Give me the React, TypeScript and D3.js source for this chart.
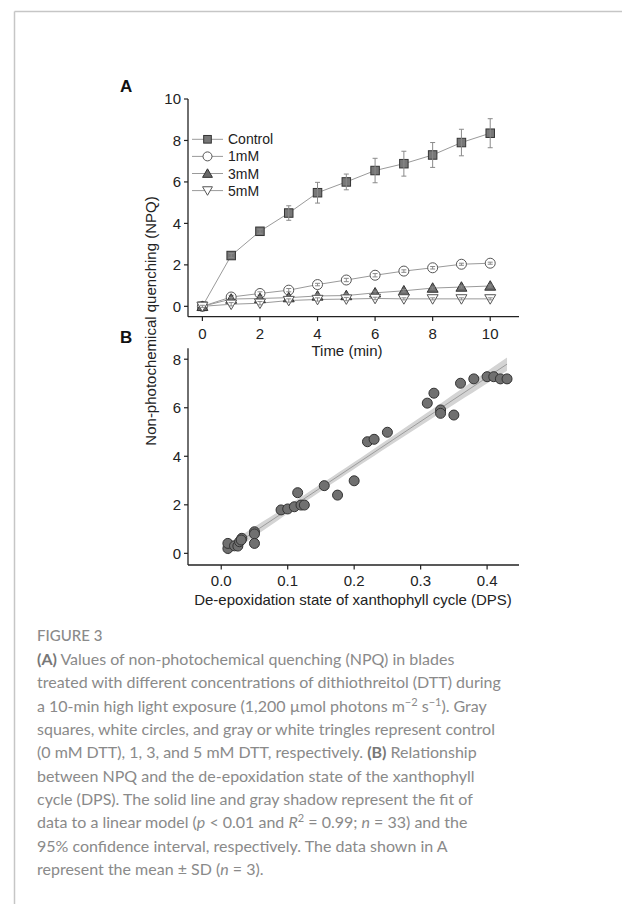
import React from "react";
import * as d3 from "d3";

// ---------- Panel A data ----------
const timeMin = [0, 1, 2, 3, 4, 5, 6, 7, 8, 9, 10];
const npqControl = [0, 2.45, 3.62, 4.5, 5.48, 6.0, 6.55, 6.88, 7.3, 7.9, 8.35];
const sdControl = [0.05, 0.1, 0.1, 0.35, 0.5, 0.38, 0.59, 0.6, 0.6, 0.64, 0.7];
const npq1mM = [0, 0.45, 0.62, 0.78, 1.05, 1.27, 1.5, 1.7, 1.86, 2.03, 2.08];
const sd1mM = [0.05, 0.08, 0.08, 0.08, 0.06, 0.08, 0.08, 0.06, 0.06, 0.05, 0.05];
const npq3mM = [0, 0.35, 0.38, 0.42, 0.5, 0.52, 0.65, 0.75, 0.88, 0.93, 0.98];
const sd3mM = [0.05, 0.08, 0.08, 0.06, 0.08, 0.08, 0.08, 0.06, 0.05, 0.05, 0.05];
const npq5mM = [0, 0.1, 0.15, 0.28, 0.33, 0.35, 0.38, 0.36, 0.36, 0.36, 0.36];
const sd5mM = [0.05, 0.08, 0.08, 0.08, 0.08, 0.08, 0.06, 0.05, 0.05, 0.05, 0.05];
const seriesNames = ["Control", "1mM", "3mM", "5mM"];
const ticksA_x = [0, 2, 4, 6, 8, 10];
const ticksA_y = [0, 2, 4, 6, 8, 10];

// ---------- Panel B data ----------
const dps = [
  0.01, 0.01, 0.02, 0.025, 0.0275, 0.031, 0.03, 0.05, 0.05, 0.05, 0.09, 0.1, 0.11,
  0.115, 0.12, 0.125, 0.155, 0.175, 0.2, 0.22, 0.23, 0.25, 0.31, 0.32, 0.33, 0.33,
  0.35, 0.36, 0.38, 0.4, 0.41, 0.42, 0.43,
];
const npqB = [
  0.2, 0.41, 0.31, 0.3, 0.48, 0.62, 0.55, 0.89, 0.8, 0.41, 1.79, 1.83, 1.92,
  2.5, 1.99, 1.99, 2.79, 2.4, 2.99, 4.6, 4.7, 4.99, 6.19, 6.6, 5.91, 5.77,
  5.7, 7.01, 7.19, 7.28, 7.28, 7.19, 7.19,
];
const ticksB_x = [0.0, 0.1, 0.2, 0.3, 0.4];
const ticksB_y = [0, 2, 4, 6, 8];

// ---------- caption ----------
type Seg = { t: string; b?: boolean; i?: boolean; sup?: boolean };
const captionLines: Seg[][] = [
  [{ t: "(A)", b: true }, { t: " Values of non-photochemical quenching (NPQ) in blades" }],
  [{ t: "treated with different concentrations of dithiothreitol (DTT) during" }],
  [
    { t: "a 10-min high light exposure (1,200 µmol photons m" },
    { t: "−2", sup: true },
    { t: " s" },
    { t: "−1", sup: true },
    { t: "). Gray" },
  ],
  [{ t: "squares, white circles, and gray or white tringles represent control" }],
  [{ t: "(0 mM DTT), 1, 3, and 5 mM DTT, respectively. " }, { t: "(B)", b: true }, { t: " Relationship" }],
  [{ t: "between NPQ and the de-epoxidation state of the xanthophyll" }],
  [{ t: "cycle (DPS). The solid line and gray shadow represent the fit of" }],
  [
    { t: "data to a linear model (" },
    { t: "p", i: true },
    { t: " < 0.01 and " },
    { t: "R", i: true },
    { t: "2", sup: true },
    { t: " = 0.99; " },
    { t: "n", i: true },
    { t: " = 33) and the" },
  ],
  [{ t: "95% confidence interval, respectively. The data shown in A" }],
  [{ t: "represent the mean ± SD (" }, { t: "n", i: true }, { t: " = 3)." }],
];

const AX = "#222";
const FONT = "'Liberation Sans', Arial, sans-serif";

function marker(kind: number, cx: number, cy: number, key: string, scale = 1) {
  if (kind === 0) {
    const s = 8.5 * scale;
    return <rect key={key} x={cx - s / 2} y={cy - s / 2} width={s} height={s} fill="#777" stroke="#333" strokeWidth={1} />;
  }
  if (kind === 1) {
    return <circle key={key} cx={cx} cy={cy} r={5 * scale} fill="#fff" stroke="#555" strokeWidth={1} />;
  }
  const tri = d3.symbol().type(d3.symbolTriangle).size(52 * scale * scale)();
  if (kind === 2) {
    return <path key={key} d={tri || ""} transform={`translate(${cx},${cy + 1})`} fill="#6a6a6a" stroke="#333" strokeWidth={1} />;
  }
  return <path key={key} d={tri || ""} transform={`translate(${cx},${cy - 1}) rotate(180)`} fill="#fff" stroke="#555" strokeWidth={1} />;
}

export default function App() {
  // Panel A scales
  const xA = d3.scaleLinear().domain([-0.5, 11]).range([188, 519]);
  const yA = d3.scaleLinear().domain([-0.5, 10]).range([316.7, 99]);
  // Panel B scales
  const xB = d3.scaleLinear().domain([-0.05, 0.448]).range([188, 519]);
  const yB = d3.scaleLinear().domain([-0.48, 8.45]).range([565, 348.3]);

  const series = [npqControl, npq1mM, npq3mM, npq5mM];
  const sds = [sdControl, sd1mM, sd3mM, sd5mM];
  const lineA = d3.line<number>().x((_, i) => xA(timeMin[i])).y((d) => yA(d));

  // regression
  const n = dps.length;
  const mx = d3.mean(dps) as number;
  const my = d3.mean(npqB) as number;
  let sxx = 0, sxy = 0;
  dps.forEach((x, i) => { sxx += (x - mx) ** 2; sxy += (x - mx) * (npqB[i] - my); });
  const slope = sxy / sxx;
  const icpt = my - slope * mx;
  let sse = 0;
  dps.forEach((x, i) => { sse += (npqB[i] - (icpt + slope * x)) ** 2; });
  const s = Math.sqrt(sse / (n - 2));
  const tcrit = 2.04;
  const xmin = d3.min(dps) as number, xmax = d3.max(dps) as number;
  const grid = d3.range(0, 41).map((k) => xmin + ((xmax - xmin) * k) / 40);
  const band = d3
    .area<number>()
    .x((x) => xB(x))
    .y0((x) => yB(icpt + slope * x - tcrit * s * Math.sqrt(1 / n + (x - mx) ** 2 / sxx)))
    .y1((x) => yB(icpt + slope * x + tcrit * s * Math.sqrt(1 / n + (x - mx) ** 2 / sxx)));
  const fitLine = d3.line<number>().x((x) => xB(x)).y((x) => yB(icpt + slope * x));

  return (
    <svg width={622} height={904} style={{ position: "absolute", left: 0, top: 0, display: "block" }}>
      <rect x={0} y={0} width={622} height={904} fill="#fff" />
      {/* card border */}
      <line x1={14.5} y1={11.5} x2={622} y2={11.5} stroke="#c6c6c6" strokeWidth={1.5} />
      <line x1={14.5} y1={11.5} x2={14.5} y2={904} stroke="#c6c6c6" strokeWidth={1.5} />

      {/* ===== Panel A ===== */}
      <text x={120} y={92} fontFamily={FONT} fontWeight="bold" fontSize={17} fill="#111">A</text>
      <line x1={188} y1={yA(10)} x2={188} y2={316.7} stroke={AX} strokeWidth={1.3} />
      <line x1={188} y1={316.7} x2={519} y2={316.7} stroke={AX} strokeWidth={1.3} />
      {ticksA_y.map((t) => (
        <g key={"ay" + t}>
          <line x1={184} x2={188} y1={yA(t)} y2={yA(t)} stroke={AX} strokeWidth={1.2} />
          <text x={181} y={yA(t)} dy="0.36em" textAnchor="end" fontFamily={FONT} fontSize={15} fill={AX}>{t}</text>
        </g>
      ))}
      {ticksA_x.map((t) => (
        <g key={"ax" + t}>
          <line x1={xA(t)} x2={xA(t)} y1={316.7} y2={321} stroke={AX} strokeWidth={1.2} />
          <text x={xA(t)} y={338.5} textAnchor="middle" fontFamily={FONT} fontSize={15} fill={AX}>{t}</text>
        </g>
      ))}
      <text x={347} y={356} textAnchor="middle" fontFamily={FONT} fontSize={15} fill={AX}>Time (min)</text>

      {series.map((vals, si) => (
        <path key={"l" + si} d={lineA(vals) || ""} fill="none" stroke="#9a9a9a" strokeWidth={1} />
      ))}
      {series.map((vals, si) => (
        <g key={"s" + si}>
          {vals.map((v, i) => marker(si, xA(timeMin[i]), yA(v), `m${si}-${i}`))}
          {vals.map((v, i) => {
            const x = xA(timeMin[i]);
            const y1 = yA(v + sds[si][i]);
            const y2 = yA(v - sds[si][i]);
            return (
              <g key={`e${si}-${i}`} stroke="#8a8a8a" strokeWidth={1}>
                <line x1={x} x2={x} y1={y1} y2={y2} />
                <line x1={x - 2.5} x2={x + 2.5} y1={y1} y2={y1} />
                <line x1={x - 2.5} x2={x + 2.5} y1={y2} y2={y2} />
              </g>
            );
          })}
        </g>
      ))}

      {/* legend */}
      {seriesNames.map((name, i) => {
        const y = 139.3 + i * 17.1;
        return (
          <g key={"lg" + i}>
            <line x1={192} x2={223} y1={y} y2={y} stroke="#9a9a9a" strokeWidth={1} />
            {marker(i, 207.5, y, "lgm" + i, 0.9)}
            <text x={228} y={y} dy="0.36em" fontFamily={FONT} fontSize={14} fill={AX}>{name}</text>
          </g>
        );
      })}

      {/* ===== Panel B ===== */}
      <text x={120} y={342.5} fontFamily={FONT} fontWeight="bold" fontSize={17} fill="#111">B</text>
      <path d={band(grid) || ""} fill="#d4d4d4" stroke="none" />
      <path d={fitLine([xmin, xmax]) || ""} fill="none" stroke="#9c9c9c" strokeWidth={1} />
      <line x1={188} y1={348.3} x2={188} y2={565} stroke={AX} strokeWidth={1.3} />
      <line x1={188} y1={565} x2={519} y2={565} stroke={AX} strokeWidth={1.3} />
      {ticksB_y.map((t) => (
        <g key={"by" + t}>
          <line x1={184} x2={188} y1={yB(t)} y2={yB(t)} stroke={AX} strokeWidth={1.2} />
          <text x={181} y={yB(t)} dy="0.36em" textAnchor="end" fontFamily={FONT} fontSize={15} fill={AX}>{t}</text>
        </g>
      ))}
      {ticksB_x.map((t) => (
        <g key={"bx" + t}>
          <line x1={xB(t)} x2={xB(t)} y1={565} y2={569.5} stroke={AX} strokeWidth={1.2} />
          <text x={xB(t)} y={586} textAnchor="middle" fontFamily={FONT} fontSize={15} fill={AX}>{t.toFixed(1)}</text>
        </g>
      ))}
      {dps.map((x, i) => (
        <circle key={"p" + i} cx={xB(x)} cy={yB(npqB[i])} r={5} fill="#707070" stroke="#333" strokeWidth={1} />
      ))}
      <text x={353} y={605} textAnchor="middle" fontFamily={FONT} fontSize={15} fill={AX}>
        De-epoxidation state of xanthophyll cycle (DPS)
      </text>

      {/* shared y title */}
      <text
        transform="translate(156,321) rotate(-90)"
        textAnchor="middle"
        fontFamily={FONT}
        fontSize={15}
        fill={AX}
      >
        Non-photochemical quenching (NPQ)
      </text>

      {/* ===== Caption ===== */}
      <text x={37} y={641} fontFamily="Lato, 'Open Sans', sans-serif" fontSize={15} fill="#8a8a8a" fontWeight={500}>
        FIGURE 3
      </text>
      {captionLines.map((segs, li) => (
        <text key={"c" + li} x={37} y={665 + li * 23.33} fontFamily="Lato, 'Open Sans', sans-serif" fontSize={16} fill="#8a8a8a">
          {segs.map((sg, k) => (
            <tspan
              key={k}
              fontWeight={sg.b ? "bold" : undefined}
              fill={sg.b ? "#777" : undefined}
              fontStyle={sg.i ? "italic" : undefined}
              fontSize={sg.sup ? 11 : undefined}
              baselineShift={sg.sup ? "super" : undefined}
            >
              {sg.t}
            </tspan>
          ))}
        </text>
      ))}
    </svg>
  );
}
